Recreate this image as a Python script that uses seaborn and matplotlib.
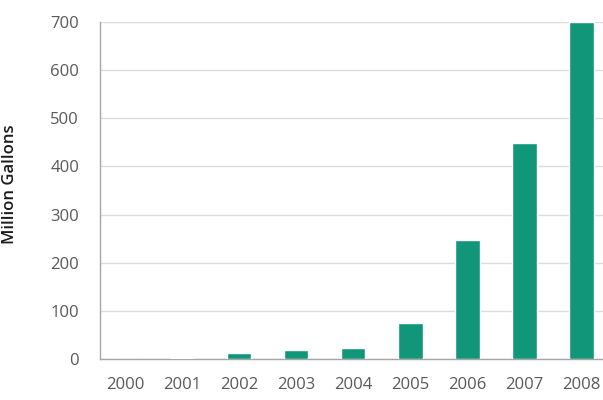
import matplotlib
matplotlib.use("Agg")
import matplotlib.pyplot as plt
import seaborn as sns
import pandas as pd

years = ["2000", "2001", "2002", "2003", "2004", "2005", "2006", "2007", "2008"]
gallons = [1, 3, 12, 19, 23, 75, 248, 449, 700]
yticks = [0, 100, 200, 300, 400, 500, 600, 700]

sns.set_theme(style="white")
plt.rcParams['font.family'] = ['Open Sans', 'DejaVu Sans']

df = pd.DataFrame({"year": years, "gallons": gallons})

fig = plt.figure(figsize=(6.03, 4.0), dpi=100)
ax = fig.add_axes([100/603, 1-359/400, 503/603, (359-22)/400])

sns.barplot(data=df, x="year", y="gallons", color="#12967a", saturation=1,
            width=0.43, ax=ax, zorder=3)

ax.set_ylim(0, 700)
ax.set_xlim(-0.44, 8.38)
ax.set_yticks(yticks)
ax.set_yticklabels([str(v) for v in yticks])
ax.yaxis.grid(True, color="#dcdcdc", linewidth=1, zorder=0)
ax.set_axisbelow(True)

for s in ["top", "right"]:
    ax.spines[s].set_visible(False)
for s in ["left", "bottom"]:
    ax.spines[s].set_color("#a6a6a6")
    ax.spines[s].set_linewidth(1)

ax.tick_params(axis="y", length=0, pad=15, labelsize=12, labelcolor="#595959")
ax.tick_params(axis="x", length=0, pad=13, labelsize=12, labelcolor="#595959")
ax.set_xlabel("")
ax.set_ylabel("Million Gallons", fontsize=12, fontweight="semibold", color="#1a1a1a")
ax.yaxis.set_label_coords(-(100-18)/503, 0.52)

fig.savefig("out.png", dpi=100)
